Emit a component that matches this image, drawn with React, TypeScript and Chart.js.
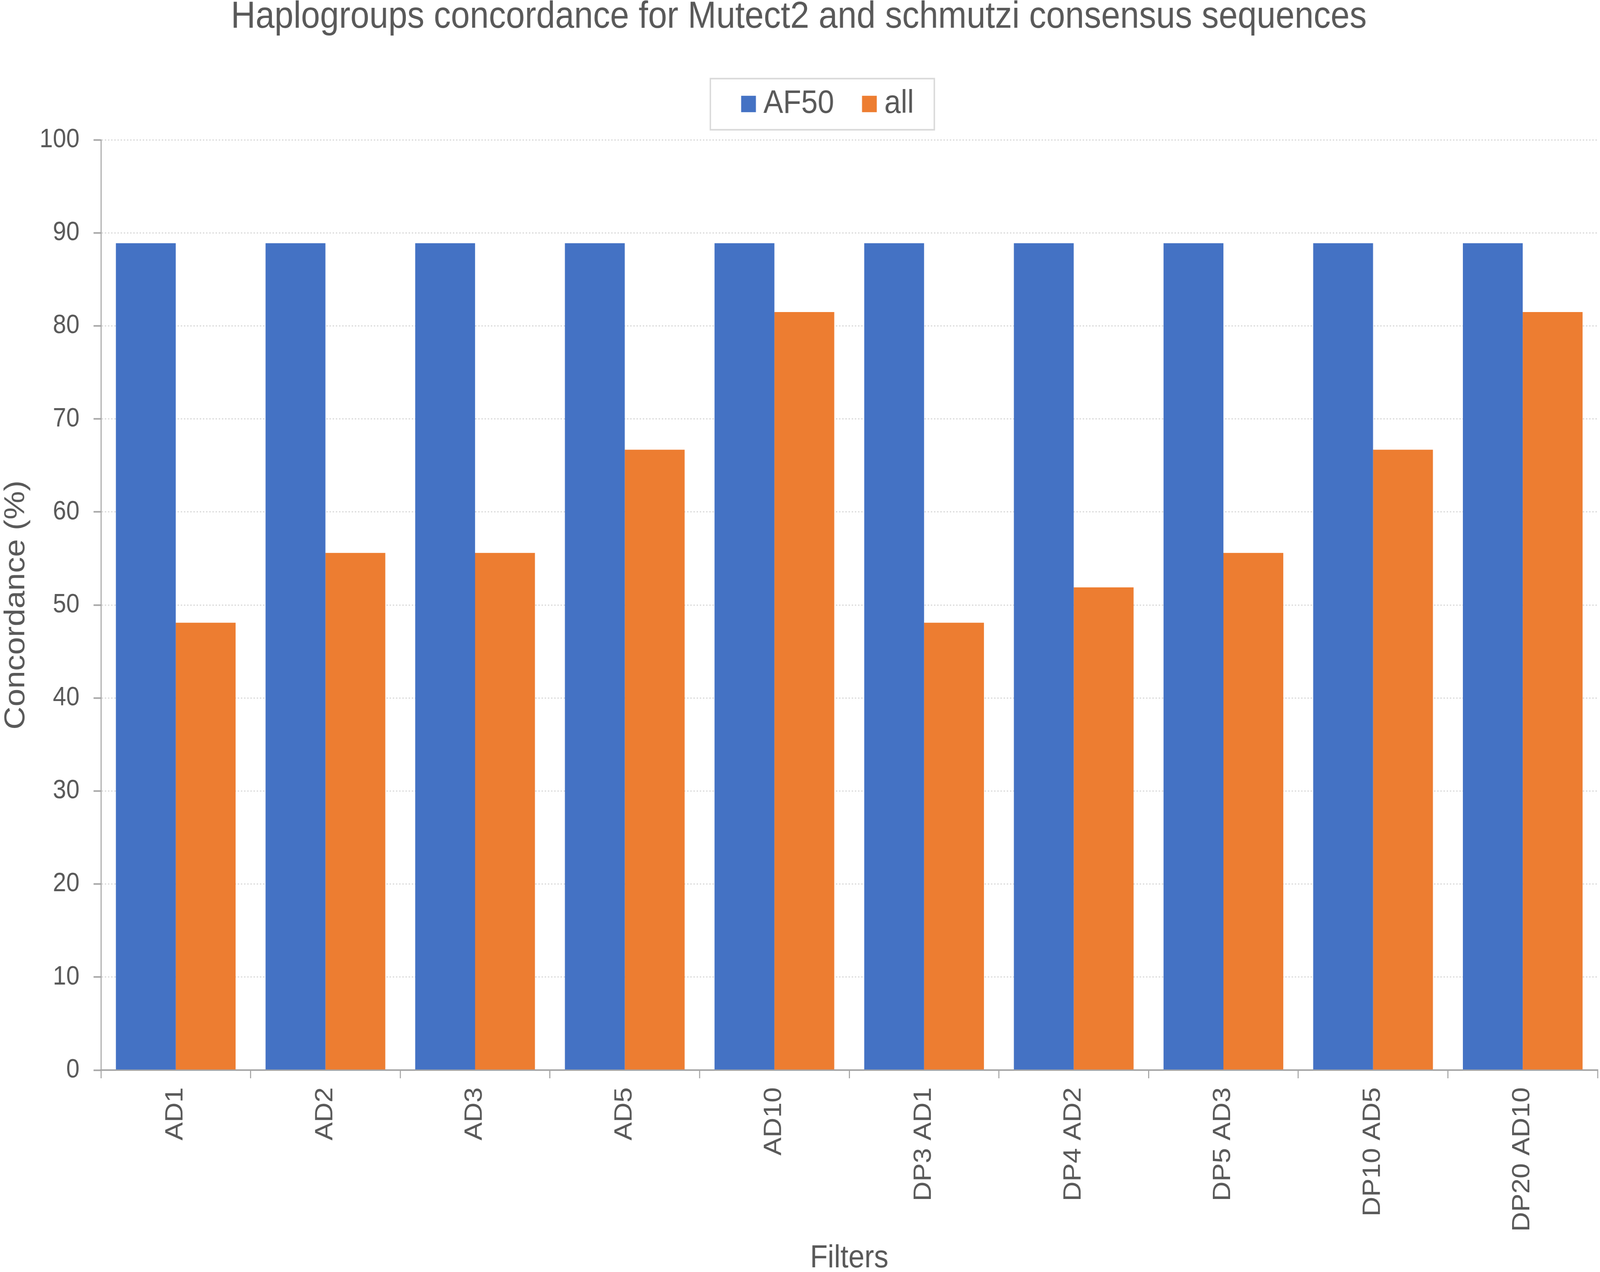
import { useEffect, useRef } from 'react';
import { Chart, ChartConfiguration, registerables } from 'chart.js';

Chart.register(...registerables);

const categories = [
  'AD1',
  'AD2',
  'AD3',
  'AD5',
  'AD10',
  'DP3 AD1',
  'DP4 AD2',
  'DP5 AD3',
  'DP10 AD5',
  'DP20 AD10'
];
const af50Values = [88.9, 88.9, 88.9, 88.9, 88.9, 88.9, 88.9, 88.9, 88.9, 88.9];
const allValues = [48.1, 55.6, 55.6, 66.7, 81.5, 48.1, 51.9, 55.6, 66.7, 81.5];
const seriesNames = ['AF50', 'all'];

const WIDTH = 4550;
const HEIGHT = 3257;
const FONT = "'Liberation Sans', Arial, sans-serif";
const TEXT = '#595959';
const AXIS = '#a6a6a6';
const GRID = '#d9d9d9';

// shifts the legend a bit and draws the thin frame around it
const legendFrame = {
  id: 'legendFrame',
  afterLayout(chart: any) {
    if (chart.legend) chart.legend.left = 184;
  },
  afterDraw(chart: any) {
    const boxes = chart.legend?.legendHitBoxes;
    if (!boxes || boxes.length < 2) return;
    const first = boxes[0];
    const last = boxes[boxes.length - 1];
    const cy = first.top + first.height / 2;
    const left = first.left - 108;
    const right = last.left + last.width + 58;
    const ctx = chart.ctx;
    ctx.save();
    ctx.strokeStyle = GRID;
    ctx.lineWidth = 4;
    ctx.strokeRect(left, cy - 65, right - left, 131);
    ctx.restore();
  }
};

export default function App() {
  const canvasRef = useRef<HTMLCanvasElement | null>(null);
  const chartRef = useRef<Chart<'bar'> | null>(null);

  useEffect(() => {
    if (!canvasRef.current) return;
    if (chartRef.current) chartRef.current.destroy();

    const config: ChartConfiguration<'bar'> = {
      type: 'bar',
      data: {
        labels: categories,
        datasets: [
          {
            label: seriesNames[0],
            data: af50Values,
            backgroundColor: '#4472C4',
            borderWidth: 0,
            barPercentage: 1,
            categoryPercentage: 0.8
          },
          {
            label: seriesNames[1],
            data: allValues,
            backgroundColor: '#ED7D31',
            borderWidth: 0,
            barPercentage: 1,
            categoryPercentage: 0.8
          }
        ]
      },
      options: {
        responsive: false,
        animation: false,
        devicePixelRatio: 1,
        events: [],
        layout: { padding: { left: 0, right: 7, top: 0, bottom: 0 } },
        plugins: {
          title: {
            display: true,
            text: 'Haplogroups concordance for Mutect2 and schmutzi consensus sequences',
            color: TEXT,
            font: { family: FONT, size: 97, weight: 'normal', lineHeight: 0.9 },
            padding: { top: 1, bottom: 36 }
          },
          // empty spacer between the legend and the plot
          subtitle: {
            display: true,
            text: '',
            weight: 500,
            padding: 0,
            font: { family: FONT, size: 40, lineHeight: 1 }
          },
          legend: {
            position: 'top',
            labels: {
              usePointStyle: true,
              pointStyle: 'rect',
              boxWidth: 1,
              boxHeight: 42,
              padding: 100,
              color: TEXT,
              font: { family: FONT, size: 84 }
            }
          },
          tooltip: { enabled: false }
        },
        scales: {
          x: {
            z: 1,
            grid: {
              drawOnChartArea: false,
              drawTicks: true,
              tickLength: 21,
              color: AXIS,
              lineWidth: 3,
              offset: true
            },
            border: { color: AXIS, width: 4 },
            ticks: {
              autoSkip: false,
              minRotation: 90,
              maxRotation: 90,
              padding: 23,
              color: TEXT,
              font: { family: FONT, size: 70 }
            },
            title: {
              display: true,
              text: 'Filters',
              color: TEXT,
              font: { family: FONT, size: 82, lineHeight: 0.8 },
              padding: { top: 0, bottom: 2 }
            },
            afterFit: (scale: any) => {
              scale.height = 517;
            }
          },
          y: {
            min: 0,
            max: 100,
            grid: {
              color: GRID,
              lineWidth: 3,
              drawTicks: true,
              tickLength: 21,
              tickColor: AXIS,
              tickWidth: 4
            },
            border: { color: AXIS, width: 3, dash: [4, 5] },
            ticks: {
              stepSize: 10,
              padding: 40,
              color: TEXT,
              font: { family: FONT, size: 68 }
            },
            title: {
              display: true,
              text: 'Concordance (%)',
              color: TEXT,
              font: { family: FONT, size: 82, lineHeight: 1 },
              padding: { top: 5, bottom: 0 }
            },
            afterFit: (scale: any) => {
              scale.width = 287;
            }
          }
        }
      },
      plugins: [legendFrame]
    };

    chartRef.current = new Chart(canvasRef.current, config);

    return () => {
      if (chartRef.current) {
        chartRef.current.destroy();
        chartRef.current = null;
      }
    };
  }, []);

  // the drawing buffer is kept at the picture's pixel size and
  // stretched over the whole viewport (the window is narrower than 4550)
  return (
    <div style={{ position: 'fixed', left: 0, top: 0, width: '100vw', height: '100vh', background: '#fff' }}>
      <canvas
        ref={canvasRef}
        width={WIDTH}
        height={HEIGHT}
        style={{ display: 'block', width: '100vw', height: '100vh' }}
      />
    </div>
  );
}
